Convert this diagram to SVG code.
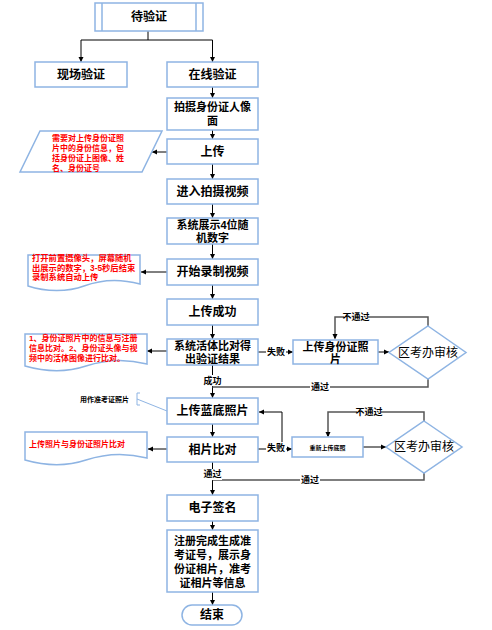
<svg xmlns="http://www.w3.org/2000/svg" width="492" height="630" viewBox="0 0 492 630" xml:lang="zh-CN">
<style>
.box{fill:#fff;stroke:#8eb4e3;stroke-width:1.5}
text{font-family:"Liberation Sans","Noto Sans CJK SC",sans-serif}
.t{font-weight:bold;font-size:12px;fill:#000;text-anchor:middle}
.t2{font-weight:bold;font-size:11px;fill:#000;text-anchor:middle}
.d{font-weight:normal;font-size:12px;fill:#000;text-anchor:middle}
.r{font-weight:bold;font-size:8px;fill:#f00}
.l{font-weight:bold;font-size:9px;fill:#000;text-anchor:middle}
.s{font-weight:bold;font-size:7px;fill:#000}
.c{fill:none;stroke:#000;stroke-width:1}
.g{fill:none;stroke:#555;stroke-width:1.5}
.lb{fill:#fff}
</style>
<defs>
<marker id="a" markerWidth="6" markerHeight="6" refX="5" refY="3" orient="auto" markerUnits="userSpaceOnUse">
<path d="M0,0.5 L5,3 L0,5.5 Z" fill="#000"/>
</marker>
</defs>

<g id="connectors">
<polyline class="c" points="148,31 148,40"/>
<polyline class="c" points="81,40 212.5,40"/>
<line class="c" x1="81" y1="40" x2="81" y2="62" marker-end="url(#a)"/>
<line class="c" x1="212.5" y1="40" x2="212.5" y2="62" marker-end="url(#a)"/>
<line class="c" x1="212.5" y1="87" x2="212.5" y2="98" marker-end="url(#a)"/>
<line class="c" x1="212.5" y1="130" x2="212.5" y2="139" marker-end="url(#a)"/>
<line class="c" x1="212.5" y1="164" x2="212.5" y2="179" marker-end="url(#a)"/>
<line class="c" x1="212.5" y1="204" x2="212.5" y2="218" marker-end="url(#a)"/>
<line class="c" x1="212.5" y1="244" x2="212.5" y2="259" marker-end="url(#a)"/>
<line class="c" x1="212.5" y1="285" x2="212.5" y2="299" marker-end="url(#a)"/>
<line class="c" x1="212.5" y1="325" x2="212.5" y2="339" marker-end="url(#a)"/>
<line class="c" x1="212.5" y1="365" x2="212.5" y2="398" marker-end="url(#a)"/>
<line class="c" x1="212.5" y1="424" x2="212.5" y2="437" marker-end="url(#a)"/>
<line class="c" x1="212.5" y1="462" x2="212.5" y2="495" marker-end="url(#a)"/>
<line class="c" x1="212.5" y1="521" x2="212.5" y2="530" marker-end="url(#a)"/>
<line class="c" x1="212.5" y1="592" x2="212.5" y2="605" marker-end="url(#a)"/>
<line class="c" x1="167" y1="152" x2="152" y2="152" marker-end="url(#a)"/>
<line class="c" x1="167" y1="272" x2="141" y2="272" marker-end="url(#a)"/>
<line class="c" x1="167" y1="351" x2="147" y2="351" marker-end="url(#a)"/>
<line class="c" x1="167" y1="449" x2="148" y2="449" marker-end="url(#a)"/>
<line class="c" x1="258" y1="352" x2="293" y2="352" marker-end="url(#a)"/>
<line class="c" x1="378" y1="352" x2="389" y2="352" marker-end="url(#a)"/>
<polyline class="g" points="428,326 428,317 335,317 335,338"/>
<path d="M332.5,334 L335,339.5 L337.5,334 Z" fill="#000"/>
<polyline class="g" points="428,379 428,387 212.5,387"/>
<line class="c" x1="258" y1="449" x2="292" y2="449" marker-end="url(#a)"/>
<polyline class="c" points="282,449 282,412 259,412" marker-end="url(#a)"/>
<line class="c" x1="363" y1="447" x2="386" y2="447" marker-end="url(#a)"/>
<polyline class="g" points="424,421 424,412 328,412 328,436"/>
<path d="M325.5,432 L328,437.5 L330.5,432 Z" fill="#000"/>
<polyline class="g" points="424,473 424,480 212.5,480"/>
<polyline points="140,393 137,393 137,405 140,405" fill="none" stroke="#8eb4e3" stroke-width="1"/>
<line x1="137" y1="399" x2="167" y2="411" stroke="#8eb4e3" stroke-width="1"/>
<rect class="lb" x="266" y="346" width="20" height="11"/>
<text class="l" x="276" y="355">失败</text>
<rect class="lb" x="344" y="312" width="24" height="11"/>
<text class="l" x="356" y="320">不通过</text>
<rect class="lb" x="310" y="382" width="20" height="11"/>
<text class="l" x="320" y="390">通过</text>
<rect class="lb" x="202" y="375" width="20" height="11"/>
<text class="l" x="212.5" y="384">成功</text>
<rect class="lb" x="266" y="442" width="20" height="11"/>
<text class="l" x="276" y="451">失败</text>
<rect class="lb" x="357" y="407" width="24" height="11"/>
<text class="l" x="369" y="415">不通过</text>
<rect class="lb" x="300" y="475" width="20" height="11"/>
<text class="l" x="310" y="483">通过</text>
<rect class="lb" x="202" y="469" width="20" height="11"/>
<text class="l" x="212.5" y="477">通过</text>
</g>

<g id="n_start">
<rect class="box" x="95" y="3" width="108" height="28"/>
<line x1="102" y1="3" x2="102" y2="31" stroke="#8eb4e3" stroke-width="1.5"/>
<line x1="196" y1="3" x2="196" y2="31" stroke="#8eb4e3" stroke-width="1.5"/>
<text class="t" x="149" y="21">待验证</text>
</g>
<g id="n_onsite">
<rect class="box" x="35" y="62" width="92" height="25"/>
<text class="t" x="81" y="79">现场验证</text>
</g>
<g id="n_online">
<rect class="box" x="167" y="62" width="91" height="25"/>
<text class="t" x="212.5" y="79">在线验证</text>
</g>
<g id="n_photo">
<rect class="box" x="167" y="98" width="91" height="32"/>
<text class="t2"><tspan x="212.5" y="111">拍摄身份证人像</tspan><tspan x="212.5" y="125">面</tspan></text>
</g>
<g id="n_upload">
<rect class="box" x="167" y="139" width="91" height="25"/>
<text class="t" x="212.5" y="156">上传</text>
</g>
<g id="n_note1">
<polygon class="box" points="40,131 162,131 142,172 20,172"/>
<text class="r"><tspan x="52" y="141">需要对上传身份证照</tspan><tspan x="52" y="151">片中的身份信息，包</tspan><tspan x="52" y="161">括身份证上图像、姓</tspan><tspan x="52" y="171">名、身份证号</tspan></text>
</g>
<g id="n_video">
<rect class="box" x="167" y="179" width="91" height="25"/>
<text class="t" x="212.5" y="196">进入拍摄视频</text>
</g>
<g id="n_digits">
<rect class="box" x="167" y="218" width="91" height="26"/>
<text class="t2"><tspan x="212.5" y="229">系统展示4位随</tspan><tspan x="212.5" y="241.5">机数字</tspan></text>
</g>
<g id="n_record">
<rect class="box" x="167" y="259" width="91" height="26"/>
<text class="t" x="212.5" y="276">开始录制视频</text>
</g>
<g id="n_note2">
<path class="box" d="M28,255 H140 V284 C118,278 100,280 84,286 C68,292 46,292 28,286 Z"/>
<text class="r" style="font-size:8.3px"><tspan x="32" y="261">打开前置摄像头，屏幕随机</tspan><tspan x="32" y="270.5">出展示的数字，3-5秒后结束</tspan><tspan x="32" y="280">录制系统自动上传</tspan></text>
</g>
<g id="n_success">
<rect class="box" x="167" y="299" width="91" height="26"/>
<text class="t" x="212.5" y="316">上传成功</text>
</g>
<g id="n_compare">
<rect class="box" x="167" y="339" width="91" height="26"/>
<text class="t2"><tspan x="212.5" y="350">系统活体比对得</tspan><tspan x="212.5" y="362.5">出验证结果</tspan></text>
</g>
<g id="n_note3">
<path class="box" d="M25,334 H147 V364 C124,358 104,360 86,366 C68,372 46,372 25,366 Z"/>
<text class="r"><tspan x="29" y="341">1、身份证照片中的信息与注册</tspan><tspan x="29" y="351">信息比对。2、身份证头像与视</tspan><tspan x="29" y="361">频中的活体图像进行比对。</tspan></text>
</g>
<g id="n_uploadid">
<rect class="box" x="293" y="340" width="85" height="24"/>
<text class="t2"><tspan x="335.5" y="350.5">上传身份证照</tspan><tspan x="335.5" y="363">片</tspan></text>
</g>
<g id="n_review1">
<polygon class="box" points="428,326 466,352.5 428,379 389,352.5"/>
<text class="d" x="428" y="357">区考办审核</text>
</g>
<g id="n_blue">
<rect class="box" x="167" y="398" width="91" height="26"/>
<text class="t" x="212.5" y="415">上传蓝底照片</text>
</g>
<g id="n_callout">
<text class="s" x="80" y="402">用作准考证照片</text>
</g>
<g id="n_match">
<rect class="box" x="167" y="437" width="91" height="25"/>
<text class="t" x="212.5" y="454">相片比对</text>
</g>
<g id="n_note4">
<path class="box" d="M25,432 H147 V458 C124,452 104,454 86,460 C68,466 46,466 25,460 Z"/>
<text class="r" x="29" y="447">上传照片与身份证照片比对</text>
</g>
<g id="n_reupload">
<rect class="box" x="292" y="437" width="71" height="20"/>
<text class="s" x="327.5" y="450" text-anchor="middle" style="font-size:6px">重新上传底照</text>
</g>
<g id="n_review2">
<polygon class="box" points="424,421 462,447 424,473 386,447"/>
<text class="d" x="424" y="451">区考办审核</text>
</g>
<g id="n_sign">
<rect class="box" x="167" y="495" width="91" height="26"/>
<text class="t" x="212.5" y="512">电子签名</text>
</g>
<g id="n_done">
<rect class="box" x="167" y="530" width="91" height="62"/>
<text class="t2"><tspan x="212.5" y="545">注册完成生成准</tspan><tspan x="212.5" y="559">考证号，展示身</tspan><tspan x="212.5" y="573">份证相片，准考</tspan><tspan x="212.5" y="587">证相片等信息</tspan></text>
</g>
<g id="n_end">
<rect class="box" x="182" y="605" width="60" height="20" rx="10" ry="10"/>
<text class="t" x="212" y="619">结束</text>
</g>
</svg>
